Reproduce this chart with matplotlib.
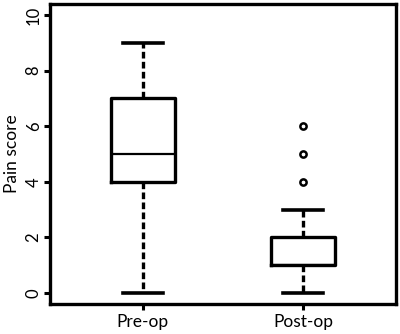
import matplotlib
matplotlib.use("Agg")
import matplotlib.pyplot as plt

plt.rcParams['font.family'] = ['Lato', 'DejaVu Sans']

groups = ["Pre-op", "Post-op"]
whisker_low = [0, 0]
q1 = [4, 1]
median = [5, 1]
q3 = [7, 2]
whisker_high = [9, 3]
outliers = [[], [4, 5, 6]]

stats = []
for i in range(len(groups)):
    stats.append({
        "label": groups[i],
        "whislo": whisker_low[i],
        "q1": q1[i],
        "med": median[i],
        "q3": q3[i],
        "whishi": whisker_high[i],
        "fliers": outliers[i],
    })

fig = plt.figure(figsize=(4, 3.34), dpi=100)
ax = fig.add_axes([0.125, 0.09, 0.865, 0.898])

ax.bxp(stats, positions=[1, 2], widths=0.4, showfliers=True,
       boxprops=dict(color="black", linewidth=2.4),
       medianprops=dict(color="black", linewidth=1.6),
       whiskerprops=dict(color="black", linewidth=2.4, linestyle=(0, (2.0, 1.0))),
       capprops=dict(color="black", linewidth=2.6),
       capwidths=0.25,
       flierprops=dict(marker="o", markersize=4.5, markerfacecolor="white",
                       markeredgecolor="black", markeredgewidth=1.8))

ax.set_xlim(0.42, 2.58)
ax.set_ylim(-0.4, 10.4)
ax.set_yticks([0, 2, 4, 6, 8, 10])
ax.set_xticks([1, 2])
ax.set_xticklabels(groups, fontsize=12.5)
for lab in ax.get_yticklabels():
    lab.set_rotation(90)
    lab.set_va("center")
    lab.set_fontsize(12)
ax.tick_params(axis="both", width=2.2, length=4, color="black", pad=2)
ax.tick_params(axis="x", pad=3)
for s in ax.spines.values():
    s.set_linewidth(2.4)
ax.set_ylabel("Pain score", fontsize=12.5, labelpad=4)

fig.savefig("out.png", dpi=100)
